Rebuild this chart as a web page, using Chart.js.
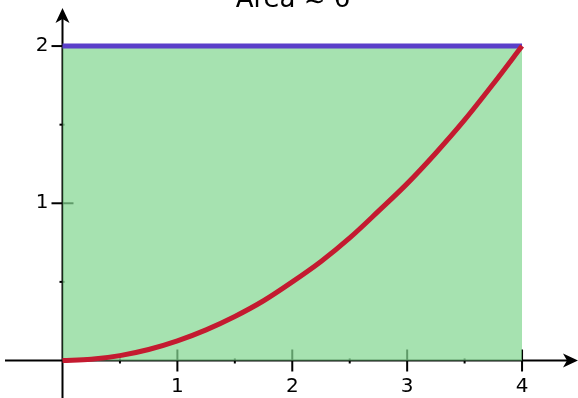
<!DOCTYPE html>
<html lang="pt">
<head>
  <meta charset="UTF-8">
  <title>Área</title>
  <script src="https://cdn.jsdelivr.net/npm/chart.js"></script>
  <style>
    html, body { margin: 0; padding: 0; background: #fff; }
    #wrap { width: 578px; height: 398px; }
  </style>
</head>
<body>
  <div id="wrap"><canvas id="grafico" width="578" height="398"></canvas></div>
  <script>
    // dados
    const titulo = 'Área ≈ 6';
    const curvaX = [0, 0.25, 0.5, 0.75, 1, 1.25, 1.5, 1.75, 2, 2.25, 2.5, 2.75, 3, 3.25, 3.5, 3.75, 4];
    const curvaY = [0, 0.008, 0.031, 0.07, 0.125, 0.195, 0.28, 0.38, 0.5, 0.63, 0.78, 0.95, 1.125, 1.32, 1.53, 1.76, 2];
    const retaX = [0, 4];
    const retaY = [2, 2];
    const ticksX = [1, 2, 3, 4];
    const ticksY = [1, 2];
    const menoresX = [0.5, 1.5, 2.5, 3.5];
    const menoresY = [0.5, 1.5];

    const FONTE = '"DejaVu Sans", sans-serif';

    // eixos com setas, desenhados antes da área verde (que fica por cima)
    const eixos = {
      id: 'eixos',
      beforeDatasetsDraw(chart) {
        const { ctx, scales: { x, y } } = chart;
        const x0 = x.getPixelForValue(0);
        const y0 = y.getPixelForValue(0);
        ctx.save();
        ctx.strokeStyle = '#000';
        ctx.fillStyle = '#000';
        ctx.lineWidth = 2;

        // eixo x
        ctx.beginPath();
        ctx.moveTo(5, y0);
        ctx.lineTo(568, y0);
        ctx.stroke();
        ctx.beginPath();
        ctx.moveTo(578, y0);
        ctx.lineTo(563, y0 - 7);
        ctx.lineTo(567, y0);
        ctx.lineTo(563, y0 + 7);
        ctx.closePath();
        ctx.fill();

        // eixo y
        ctx.beginPath();
        ctx.moveTo(x0, 398);
        ctx.lineTo(x0, 18);
        ctx.stroke();
        ctx.beginPath();
        ctx.moveTo(x0, 8);
        ctx.lineTo(x0 - 7, 23);
        ctx.lineTo(x0, 19);
        ctx.lineTo(x0 + 7, 23);
        ctx.closePath();
        ctx.fill();

        // marcas
        ticksX.forEach(v => {
          const px = x.getPixelForValue(v);
          ctx.beginPath();
          ctx.moveTo(px, y0 - 11);
          ctx.lineTo(px, y0 + 11);
          ctx.stroke();
        });
        menoresX.forEach(v => {
          const px = x.getPixelForValue(v);
          ctx.beginPath();
          ctx.moveTo(px, y0 - 2);
          ctx.lineTo(px, y0 + 3);
          ctx.stroke();
        });
        ticksY.forEach(v => {
          const py = y.getPixelForValue(v);
          ctx.beginPath();
          ctx.moveTo(x0 - 11, py);
          ctx.lineTo(x0 + 11, py);
          ctx.stroke();
        });
        menoresY.forEach(v => {
          const py = y.getPixelForValue(v);
          ctx.beginPath();
          ctx.moveTo(x0 - 3, py);
          ctx.lineTo(x0 + 2, py);
          ctx.stroke();
        });

        // rótulos
        ctx.font = '20px ' + FONTE;
        ctx.textAlign = 'center';
        ctx.textBaseline = 'alphabetic';
        ticksX.forEach(v => {
          ctx.fillText(String(v), x.getPixelForValue(v), 392);
        });
        ctx.textAlign = 'right';
        ctx.textBaseline = 'middle';
        ticksY.forEach(v => {
          ctx.fillText(String(v), x0 - 14, y.getPixelForValue(v));
        });

        // título (cortado no topo)
        ctx.font = '26px ' + FONTE;
        ctx.textAlign = 'center';
        ctx.textBaseline = 'alphabetic';
        ctx.fillText(titulo, 293, 7);
        ctx.restore();
      }
    };

    new Chart(document.getElementById('grafico'), {
      type: 'line',
      data: {
        datasets: [
          {
            data: curvaX.map((v, i) => ({ x: v, y: curvaY[i] })),
            borderColor: '#c41a30',
            borderWidth: 5,
            pointRadius: 0,
            tension: 0.4,
            cubicInterpolationMode: 'monotone',
            fill: false,
            order: 0
          },
          {
            data: retaX.map((v, i) => ({ x: v, y: retaY[i] })),
            borderColor: '#5a3fc9',
            borderWidth: 5,
            borderCapStyle: 'butt',
            pointRadius: 0,
            fill: 'origin',
            backgroundColor: 'rgba(132, 215, 146, 0.72)',
            order: 1
          }
        ]
      },
      options: {
        responsive: false,
        animation: false,
        layout: { padding: 0 },
        plugins: { legend: { display: false }, tooltip: { enabled: false }, title: { display: false } },
        scales: {
          x: { type: 'linear', min: -0.544, max: 4.487, display: false },
          y: { type: 'linear', min: -0.2386, max: 2.293, display: false }
        }
      },
      plugins: [eixos]
    });
  </script>
</body>
</html>
